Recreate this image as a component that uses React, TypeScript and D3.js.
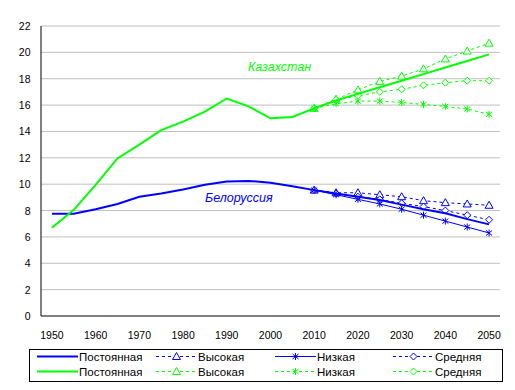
import React from "react";
import * as d3 from "d3";

const years = [1950,1955,1960,1965,1970,1975,1980,1985,1990,1995,2000,2005,2010,2015,2020,2025,2030,2035,2040,2045,2050];
const scenYears = [2010,2015,2020,2025,2030,2035,2040,2045,2050];
const xTicks = [1950,1960,1970,1980,1990,2000,2010,2020,2030,2040,2050];
const yTicks = [0,2,4,6,8,10,12,14,16,18,20,22];

const kzConst = [6.7,8.05,9.95,11.95,13.0,14.1,14.75,15.5,16.5,15.9,15.0,15.1,15.75,16.35,16.85,17.35,17.85,18.35,18.85,19.35,19.85];
const kzHigh = [15.75,16.45,17.15,17.8,18.2,18.75,19.5,20.1,20.7];
const kzLow = [15.75,16.1,16.3,16.3,16.2,16.05,15.9,15.7,15.3];
const kzMed = [15.75,16.4,16.7,17.0,17.2,17.5,17.7,17.85,17.85];

const byConst = [7.75,7.75,8.1,8.5,9.05,9.3,9.6,9.95,10.2,10.25,10.1,9.85,9.55,9.3,9.05,8.8,8.45,8.1,7.8,7.35,6.95];
const byHigh = [9.55,9.35,9.35,9.2,9.05,8.75,8.6,8.5,8.4];
const byLow = [9.55,9.2,8.85,8.5,8.1,7.65,7.2,6.75,6.3];
const byMed = [9.55,9.3,9.05,8.85,8.55,8.3,8.0,7.65,7.3];

const legendLabels = ["Постоянная","Высокая","Низкая","Средняя"];
const countryLabels = ["Казахстан","Белоруссия"];

const BLUE = "#0000FF";
const GREEN = "#00FF00";
const FONT = "'Liberation Sans', Arial, sans-serif";

const left = 41, right = 500, top = 26, bottom = 316;
const x = d3.scaleLinear().domain([1950 - 2.5, 2050 + 2.5]).range([left, right]);
const y = d3.scaleLinear().domain([0, 22]).range([bottom, top]);

type Marker = "none" | "tri" | "star" | "diamond";

function MarkerShape({ kind, cx, cy, color }: { kind: Marker; cx: number; cy: number; color: string }) {
  if (kind === "tri") {
    return <path d={`M${cx},${cy - 4}L${cx + 4},${cy + 3}L${cx - 4},${cy + 3}Z`} fill="white" stroke={color} strokeWidth={1} />;
  }
  if (kind === "diamond") {
    return <path d={`M${cx},${cy - 3.5}L${cx + 3.5},${cy}L${cx},${cy + 3.5}L${cx - 3.5},${cy}Z`} fill="white" stroke={color} strokeWidth={1} />;
  }
  if (kind === "star") {
    return (
      <g stroke={color} strokeWidth={1}>
        <line x1={cx} y1={cy - 3.5} x2={cx} y2={cy + 3.5} />
        <line x1={cx - 3} x2={cx + 3} y1={cy - 2.5} y2={cy + 2.5} />
        <line x1={cx - 3} x2={cx + 3} y1={cy + 2.5} y2={cy - 2.5} />
      </g>
    );
  }
  return null;
}

function Series({ xs, ys, color, width, dash, marker }: { xs: number[]; ys: number[]; color: string; width: number; dash?: string; marker: Marker }) {
  const line = d3.line<number>().x((_, i) => x(xs[i])).y((d) => y(d));
  return (
    <g>
      <path d={line(ys) || ""} fill="none" stroke={color} strokeWidth={width} strokeDasharray={dash} />
      {marker !== "none" && ys.map((v, i) => <MarkerShape key={i} kind={marker} cx={x(xs[i])} cy={y(v)} color={color} />)}
    </g>
  );
}

export default function App() {
  const legendCols = [37, 156, 275, 393];
  const legendRows = [356.5, 371.5];
  const styles: { dash?: string; width: number; marker: Marker }[] = [
    { width: 2, marker: "none" },
    { width: 1, dash: "3,3", marker: "tri" },
    { width: 1, dash: "3,3", marker: "star" },
    { width: 1, dash: "3,3", marker: "diamond" },
  ];
  return (
    <svg width={515} height={390} style={{ position: "absolute", left: 0, top: 0 }} fontFamily={FONT}>
      <rect width={515} height={390} fill="white" />
      {yTicks.map((t) => (
        <g key={t}>
          {t > 0 && <line x1={left} x2={right} y1={y(t)} y2={y(t)} stroke="#c0c0c0" strokeWidth={1} />}
          <text x={30.5} y={y(t) + 4} textAnchor="end" fontSize={10.5}>{t}</text>
        </g>
      ))}
      {xTicks.map((t) => (
        <text key={t} x={x(t)} y={339} textAnchor="middle" fontSize={10.5}>{t}</text>
      ))}
      <line x1={left} x2={left} y1={top} y2={bottom} stroke="black" strokeWidth={1} />
      <line x1={left} x2={right} y1={bottom} y2={bottom} stroke="black" strokeWidth={1} />

      <Series xs={scenYears} ys={byHigh} color={BLUE} width={1} dash="3,3" marker="tri" />
      <Series xs={scenYears} ys={byMed} color={BLUE} width={1} dash="3,3" marker="diamond" />
      <Series xs={scenYears} ys={byLow} color={BLUE} width={1} marker="star" />
      <Series xs={years} ys={byConst} color={BLUE} width={2} marker="none" />

      <Series xs={scenYears} ys={kzHigh} color={GREEN} width={1} dash="3,3" marker="tri" />
      <Series xs={scenYears} ys={kzMed} color={GREEN} width={1} dash="3,3" marker="diamond" />
      <Series xs={scenYears} ys={kzLow} color={GREEN} width={1} dash="3,3" marker="star" />
      <Series xs={years} ys={kzConst} color={GREEN} width={2} marker="none" />

      <text x={248} y={71} fill={GREEN} fontSize={12.5} fontStyle="italic">{countryLabels[0]}</text>
      <text x={205} y={202} fill={BLUE} fontSize={12.5} fontStyle="italic">{countryLabels[1]}</text>

      <rect x={29.5} y={349.5} width={473} height={32} fill="white" stroke="black" strokeWidth={1} />
      {[BLUE, GREEN].map((c, r) =>
        legendLabels.map((lab, i) => {
          const lx = legendCols[i];
          const ly = legendRows[r];
          const st = styles[i];
          const dash = c === BLUE && i === 2 ? undefined : st.dash;
          return (
            <g key={`${r}-${i}`}>
              <line x1={lx} x2={lx + 41} y1={ly} y2={ly} stroke={c} strokeWidth={st.width} strokeDasharray={dash} />
              <MarkerShape kind={st.marker} cx={lx + 20.5} cy={ly} color={c} />
              <text x={lx + 42} y={ly + 4} fontSize={11.5}>{lab}</text>
            </g>
          );
        })
      )}
    </svg>
  );
}
